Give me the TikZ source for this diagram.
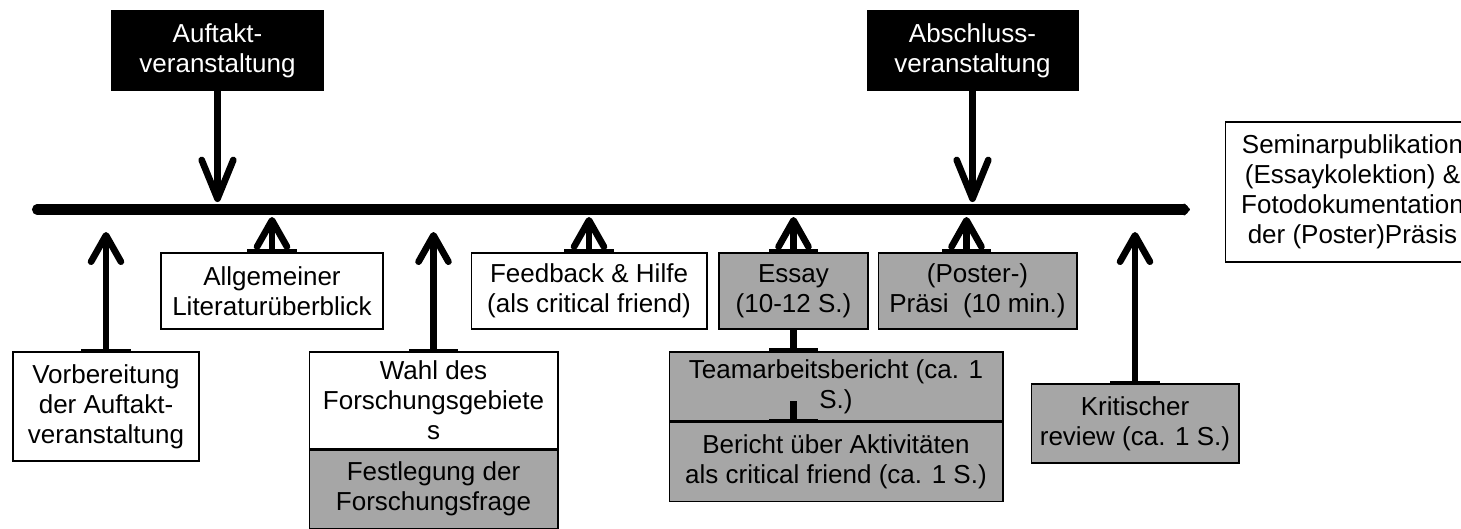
\documentclass[tikz,border=0pt]{standalone}
\usepackage{fontspec}
\setmainfont{Liberation Sans}
\usetikzlibrary{arrows.meta,positioning}
\definecolor{boxgray}{RGB}{166,166,166}
\tikzstyle{evbox} = [rectangle, draw, line width=0.6pt, align=center, inner sep=0pt, font=\fontsize{14.8}{17}\selectfont]
\tikzstyle{grbox} = [evbox, fill=boxgray]
\tikzstyle{blkbox} = [evbox, fill=black, text=white]
\tikzstyle{tline} = [line width=5.7pt, line cap=round, -{Triangle[round, length=4pt, width=8pt]}]
\tikzstyle{uparr} = [line width=3.8pt, {Bar[width=28pt, line width=1.7pt]}-{Straight Barb[round, length=15pt, width=17pt]}]
\tikzstyle{dnarr} = [line width=3.8pt, -{Straight Barb[round, length=22pt, width=18pt]}]
\tikzstyle{tlink} = [line width=3.8pt, -{Bar[width=28pt, line width=1.7pt]}]

\begin{document}
\begin{tikzpicture}[x=0.02cm, y=-0.02cm]
  \useasboundingbox (0, 0) rectangle (1461, 528);
  % timeline
  \coordinate (tl0) at (37, 209.5);
  \coordinate (tl1) at (1190, 209.5);
  \coordinate (tipA) at (0, 232);
  \coordinate (tipB) at (0, 217);
  \coordinate (tipC) at (0, 202);
  \draw[tline] (tl0) -- (tl1);
  % events above the line
  \node[blkbox, minimum width=4.22cm, minimum height=1.58cm] (kick) at (217.5, 50.5) {Auftakt-\\veranstaltung};
  \node[blkbox, minimum width=4.22cm, minimum height=1.58cm] (final) at (972.5, 50.5) {Abschluss-\\veranstaltung};
  \foreach \n in {kick, final} {
    \draw[dnarr] (\n.south) -- (\n.south |- tipC);
  }
  \node[evbox, minimum width=5.1cm, minimum height=2.8cm] (pub) at (1352.5, 192) {Seminarpublikation\\(Essaykolektion) \&\\Fotodokumentation\\der (Poster)Präsis};
  % tasks below the line
  \node[evbox, minimum width=4.44cm, minimum height=1.52cm] (lit) at (272, 291) {Allgemeiner\\Literaturüberblick};
  \node[evbox, minimum width=4.72cm, minimum height=1.52cm] (fb) at (589, 291) {Feedback \& Hilfe\\(als critical friend)};
  \node[grbox, minimum width=2.98cm, minimum height=1.52cm] (essay) at (793.5, 291) {Essay\\(10-12 S.)};
  \node[grbox, minimum width=3.98cm, minimum height=1.52cm] (poster) at (977.5, 291) {(Poster-)\\Präsi~ (10 min.)};
  \node[evbox, minimum width=3.72cm, minimum height=2.18cm] (prep) at (106, 406.5) {Vorbereitung\\der Auftakt-\\veranstaltung};
  \node[evbox, minimum width=4.98cm, minimum height=1.94cm] (wahl) at (433.5, 400.5) {Wahl des\\Forschungsgebiete\\s};
  \node[grbox, minimum width=4.98cm, minimum height=1.56cm, below=0pt of wahl] (fest) {Festlegung der\\Forschungsfrage};
  \node[grbox, minimum width=6.68cm, minimum height=1.38cm] (team) at (836, 386.5) {Teamarbeitsbericht (ca. 1\\S.)};
  \node[grbox, minimum width=6.68cm, minimum height=1.58cm, below=0pt of team] (ber) {Bericht über Aktivitäten\\als critical friend (ca. 1 S.)};
  \node[grbox, minimum width=4.16cm, minimum height=1.58cm] (krit) at (1135, 423.5) {Kritischer\\review (ca. 1 S.)};
  % arrows up to the line
  \foreach \n in {prep, wahl, krit} {
    \draw[uparr] (\n.north) -- (\n.north |- tipA);
  }
  \foreach \n in {lit, fb, essay} {
    \draw[uparr] (\n.north) -- (\n.north |- tipB);
  }
  \draw[uparr] ([xshift=-0.22cm]poster.north) -- ([xshift=-0.22cm]poster.north |- tipB);
  % links between the report boxes
  \coordinate (stub) at (793.5, 401);
  \draw[tlink] (essay.south) -- (essay.south |- team.north);
  \draw[tlink] (stub) -- (stub |- ber.north);
\end{tikzpicture}
\end{document}
